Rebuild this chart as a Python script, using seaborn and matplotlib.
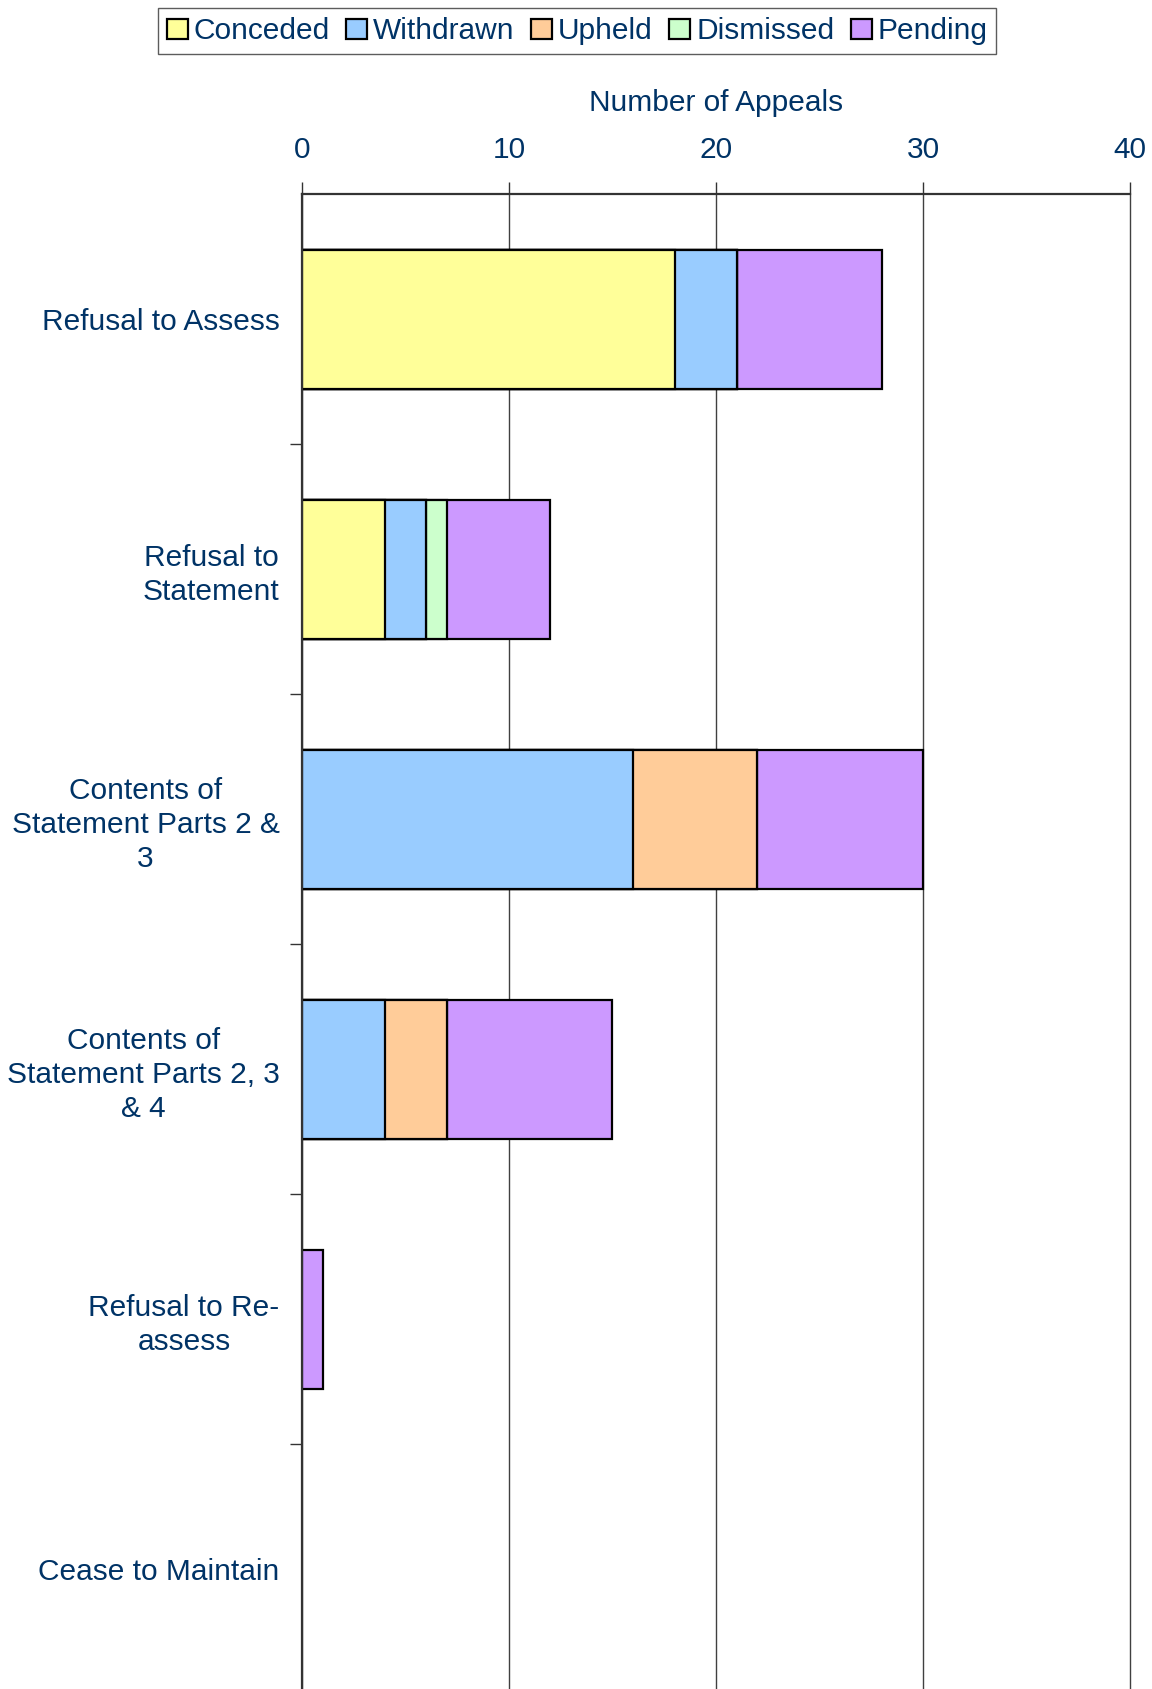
import numpy as np
import pandas as pd
import matplotlib
matplotlib.use("Agg")
import matplotlib.pyplot as plt
from matplotlib.patches import Patch
import seaborn as sns

# appeal categories (top to bottom)
categories = [
    "Refusal to Assess",
    "Refusal to\nStatement",
    "Contents of\nStatement Parts 2 &\n3",
    "Contents of\nStatement Parts 2, 3\n& 4",
    "Refusal to Re-\nassess",
    "Cease to Maintain",
]

# outcome counts per category
conceded = [18, 4, 0, 0, 0, 0]
withdrawn = [3, 2, 16, 4, 0, 0]
upheld = [0, 0, 6, 3, 0, 0]
dismissed = [0, 1, 0, 0, 0, 0]
pending = [7, 5, 8, 8, 1, 0]

outcomes = ["Conceded", "Withdrawn", "Upheld", "Dismissed", "Pending"]
colors = ["#FFFF99", "#99CCFF", "#FFCC99", "#CCFFCC", "#CC99FF"]
x_ticks = [0, 10, 20, 30, 40]

text_color = "#003366"

sns.set_style("white")
plt.rcParams["font.family"] = ["Liberation Sans", "DejaVu Sans"]

df = pd.DataFrame({
    "category": categories,
    "Conceded": conceded,
    "Withdrawn": withdrawn,
    "Upheld": upheld,
    "Dismissed": dismissed,
    "Pending": pending,
})
cum = df[outcomes].cumsum(axis=1)

fig = plt.figure(figsize=(11.52, 16.89), dpi=100)
ax = fig.add_axes([0.262, -0.003, 0.719, 0.888])

# stacked bars: draw the cumulative totals from the outermost segment inward
for name, col in reversed(list(zip(outcomes, colors))):
    sns.barplot(x=cum[name], y=df["category"], orient="h", color=col,
                edgecolor="black", linewidth=1.6, width=0.556,
                saturation=1, ax=ax)

# empty segments should not leave an outline on the axis
for p in ax.patches:
    if p.get_width() == 0:
        p.set_visible(False)

ax.set_xlim(0, 40)
ax.set_ylim(len(categories) - 0.5, -0.5)
ax.xaxis.tick_top()
ax.xaxis.set_label_position("top")
ax.set_xticks(x_ticks)
ax.set_xticklabels([str(t) for t in x_ticks])
ax.set_xlabel("Number of Appeals", fontsize=21.5, color=text_color, labelpad=18)
ax.set_ylabel("")

ax.grid(True, axis="x", color="#404040", linewidth=1.0)
for gl in ax.get_xgridlines():
    gl.set_clip_on(False)
ax.set_axisbelow(True)
for s in ["right", "bottom"]:
    ax.spines[s].set_visible(False)
for s in ["top", "left"]:
    ax.spines[s].set_color("#333333")
    ax.spines[s].set_linewidth(1.6)
    ax.spines[s].set_zorder(5)

ax.tick_params(axis="x", which="major", top=True, direction="out", length=9,
               width=1, color="#333333", labelsize=21.5, labelcolor=text_color, pad=13)
ax.tick_params(axis="y", which="major", length=0, labelsize=21.5,
               labelcolor=text_color, pad=16)
ax.set_yticks(np.arange(len(categories)) + 0.5, minor=True)
ax.tick_params(axis="y", which="minor", left=True, direction="out", length=9,
               width=1, color="#333333")
for lab in ax.get_yticklabels():
    lab.set_multialignment("center")
    lab.set_linespacing(1.28)

handles = [Patch(facecolor=c, edgecolor="black", linewidth=1.6) for c in colors]
leg = fig.legend(handles, outcomes, loc="upper center", bbox_to_anchor=(0.501, 0.995),
                 ncol=5, fontsize=21.5, frameon=True, fancybox=False,
                 handlelength=0.7, handleheight=0.7, handletextpad=0.2,
                 columnspacing=0.55, borderpad=0.3, borderaxespad=0)
leg.get_frame().set_edgecolor("#333333")
leg.get_frame().set_linewidth(1.0)
for t in leg.get_texts():
    t.set_color(text_color)

fig.savefig("out.png", dpi=100)
